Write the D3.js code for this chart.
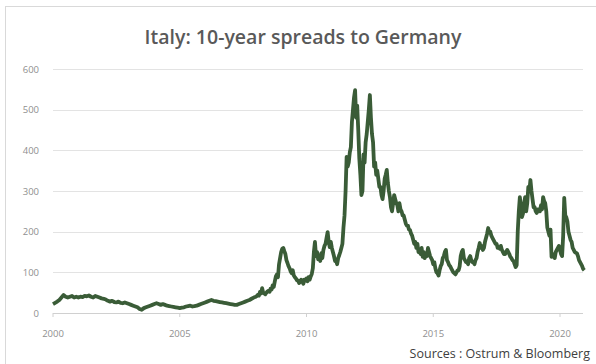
<!DOCTYPE html>
<html>
  <head>
    <meta charset="utf-8">
    <script src="https://cdn.jsdelivr.net/npm/d3@7"></script>
    <style>
        body { margin:0; background:#fff; }
        svg { display:block; }
    </style>
  </head>
  <body>
    <script>
      // spread values (bp)
      // 2000-2007: one value per month
      var monthly = [
        22, 25, 28, 32, 38, 44, 40, 38, 40, 42, 38, 40,        // 2000
        38, 40, 39, 42, 41, 43, 40, 38, 42, 40, 38, 36,        // 2001
        35, 33, 30, 28, 30, 27, 26, 28, 25, 24, 26, 24,        // 2002
        22, 20, 18, 16, 14, 10, 8, 12, 14, 16, 18, 20,         // 2003
        22, 24, 22, 20, 22, 20, 18, 17, 16, 15, 14, 13,        // 2004
        12, 13, 14, 16, 17, 18, 16, 17, 18, 20, 22, 24,        // 2005
        26, 28, 30, 32, 30, 29, 28, 27, 26, 25, 24, 23,        // 2006
        22, 21, 20, 20, 22, 24, 26, 28, 30, 32, 35, 38         // 2007
      ];
      // 2008-2020: two values per month
      var semiMonthly = [
        40,42, 45,43, 52,48, 61,50, 48,46, 50,53, 55,52, 60,58, 68,64, 78,90, 95,88, 120,135,            // 2008
        150,158, 160,152, 145,130, 123,115, 110,102, 98,105, 92,88, 85,80, 80,74, 76,82, 78,72, 82,80,   // 2009
        85,78, 88,82, 90,96, 110,150, 175,140, 150,132, 140,128, 147,135, 155,165, 170,185, 199,176, 162,175, // 2010
        160,150, 140,128, 130,120, 135,142, 150,160, 170,210, 240,300, 384,360, 370,395, 408,470, 500,530, 548,480, // 2011
        510,450, 380,340, 290,300, 390,370, 420,440, 470,500, 536,480, 440,420, 360,370, 340,350, 330,310, 310,290, // 2012
        280,300, 330,340, 352,320, 300,285, 260,250, 270,290, 280,270, 265,250, 270,255, 250,240, 240,230, 220,215, // 2013
        215,205, 204,195, 190,180, 170,175, 160,170, 150,155, 145,160, 138,150, 135,145, 140,160, 150,140, 135,130, // 2014
        120,125, 110,100, 98,92, 105,115, 120,135, 140,150, 155,130, 125,118, 115,110, 105,100, 98,95, 100,105,     // 2015
        105,115, 140,150, 155,135, 130,125, 125,120, 135,140, 130,125, 125,120, 130,135, 150,160, 172,160, 165,155, // 2016
        160,175, 185,195, 209,200, 200,190, 185,180, 175,170, 170,160, 162,158, 165,155, 150,145, 145,150, 155,150, // 2017
        145,138, 135,130, 128,120, 113,118, 200,250, 285,260, 236,245, 270,285, 250,270, 310,300, 327,300, 280,260, // 2018
        260,250, 246,255, 255,250, 265,255, 285,275, 270,250, 210,200, 190,205, 138,145, 140,135, 150,155, 160,165, // 2019
        155,145, 140,190, 283,240, 235,225, 200,190, 180,175, 160,155, 150,148, 147,140, 130,125, 120,115, 108,105  // 2020
      ];
      var yTicks = [0, 100, 200, 300, 400, 500, 600];
      var xTicks = [2000, 2005, 2010, 2015, 2020];

      var width = 596, height = 364;
      var svg = d3.select("body").append("svg")
          .attr("width", width)
          .attr("height", height);

      // chart frame
      svg.append("rect")
          .attr("x", 5.5).attr("y", 6.5)
          .attr("width", width).attr("height", height)
          .attr("fill", "none")
          .attr("stroke", "#d9d9d9");

      var x = d3.scaleLinear().domain([2000, 2020]).range([53, 560]);
      var y = d3.scaleLinear().domain([0, 600]).range([313, 69]);
      var xRight = 583;

      var data = monthly.map(function(v, i) {
          return { t: 2000 + i / 12, v: v };
      }).concat(semiMonthly.map(function(v, i) {
          return { t: 2008 + i / 24, v: v };
      }));

      // gridlines
      svg.selectAll(".grid")
        .data(yTicks)
        .enter().append("line")
          .attr("x1", x(2000)).attr("x2", xRight)
          .attr("y1", function(d) { return Math.round(y(d)) + 0.5; })
          .attr("y2", function(d) { return Math.round(y(d)) + 0.5; })
          .attr("stroke", function(d) { return d == 0 ? "#d0d0d0" : "#e3e3e3"; })
          .attr("stroke-width", 1.2);

      // y labels
      svg.selectAll(".ylab")
        .data(yTicks)
        .enter().append("text")
          .attr("x", 39)
          .attr("y", function(d) { return y(d) + 3.5; })
          .attr("text-anchor", "end")
          .attr("font-family", "Open Sans, sans-serif")
          .attr("font-size", 9.5)
          .attr("fill", "#8f8f8f")
          .text(function(d) { return d; });

      // x axis ticks + labels
      svg.selectAll(".xtick")
        .data(xTicks)
        .enter().append("line")
          .attr("x1", function(d) { return x(d); })
          .attr("x2", function(d) { return x(d); })
          .attr("y1", 313).attr("y2", 317)
          .attr("stroke", "#d0d0d0");

      svg.selectAll(".xlab")
        .data(xTicks)
        .enter().append("text")
          .attr("x", function(d) { return x(d); })
          .attr("y", 337)
          .attr("text-anchor", "middle")
          .attr("font-family", "Open Sans, sans-serif")
          .attr("font-size", 9.5)
          .attr("fill", "#8f8f8f")
          .text(function(d) { return d; });

      // the spread line
      var line = d3.line()
          .x(function(d) { return x(d.t); })
          .y(function(d) { return y(d.v); });

      svg.append("path")
          .datum(data)
          .attr("d", line)
          .attr("fill", "none")
          .attr("stroke", "#3a5c37")
          .attr("stroke-width", 3.8)
          .attr("stroke-linejoin", "round");

      // title
      svg.append("text")
          .attr("x", 303)
          .attr("y", 44)
          .attr("text-anchor", "middle")
          .attr("font-family", "Open Sans, sans-serif")
          .attr("font-weight", 600)
          .attr("font-size", 19.5)
          .attr("fill", "#595959")
          .text("Italy: 10-year spreads to Germany");

      // source
      svg.append("text")
          .attr("x", 590)
          .attr("y", 358)
          .attr("text-anchor", "end")
          .attr("font-family", "Open Sans, sans-serif")
          .attr("font-size", 12.5)
          .attr("fill", "#404040")
          .text("Sources : Ostrum & Bloomberg");
    </script>
  </body>
</html>
